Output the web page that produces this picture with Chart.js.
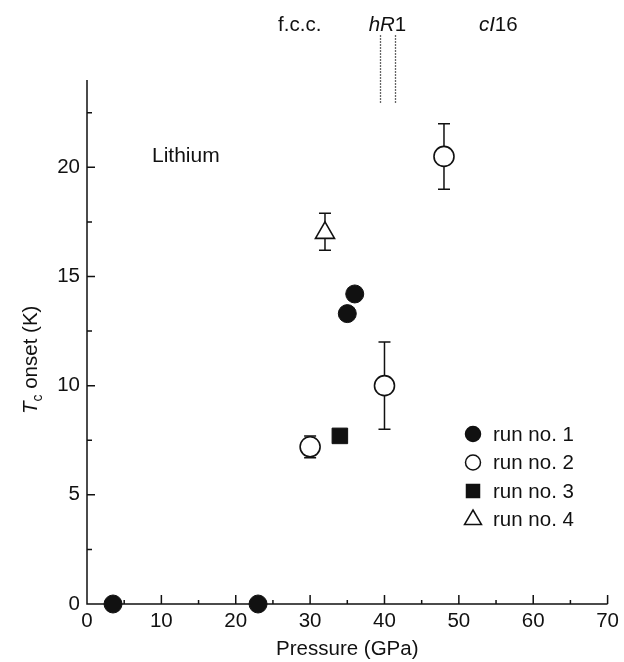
<!DOCTYPE html>
<html>
<head>
<meta charset="utf-8">
<script src="https://cdn.jsdelivr.net/npm/chart.js@4.4.0/dist/chart.umd.min.js"></script>
<style>
  html, body { margin: 0; padding: 0; background: #fff; }
</style>
</head>
<body>
<canvas id="myChart" width="624" height="662"></canvas>
<script>
// Tc onset vs pressure for lithium, four runs
const runLabels = ['run no. 1', 'run no. 2', 'run no. 3', 'run no. 4'];

const run1Pressure = [3.5, 23, 35, 36];
const run1Tc = [0, 0, 13.3, 14.2];

const run2Pressure = [30, 40, 48];
const run2Tc = [7.2, 10, 20.5];
const run2TcLow = [6.7, 8, 19];
const run2TcHigh = [7.7, 12, 22];

const run3Pressure = [34];
const run3Tc = [7.7];

const run4Pressure = [32];
const run4Tc = [17.0];
const run4TcLow = [16.2];
const run4TcHigh = [17.9];

// phase names along the top and the hR1 boundaries (GPa)
const phaseNames = ['f.c.c.', 'hR1', 'cI16'];
const phaseBounds = [39.4, 41.4];

const FONT = "'Liberation Sans', Arial, Helvetica, sans-serif";
const INK = '#111';
const TXT = 20.5;

function pts(xs, ys) {
  return xs.map((x, i) => ({ x: x, y: ys[i] }));
}

// error bars under the markers
const errorBars = {
  id: 'errorBars',
  beforeDatasetsDraw(chart) {
    const ctx = chart.ctx, xs = chart.scales.x, ys = chart.scales.y;
    ctx.save();
    ctx.strokeStyle = INK;
    ctx.lineWidth = 1.5;
    chart.data.datasets.forEach(ds => {
      if (!ds.errLow) return;
      ds.data.forEach((p, i) => {
        const px = xs.getPixelForValue(p.x);
        const lo = ys.getPixelForValue(ds.errLow[i]);
        const hi = ys.getPixelForValue(ds.errHigh[i]);
        ctx.beginPath();
        ctx.moveTo(px, lo); ctx.lineTo(px, hi);
        ctx.moveTo(px - 6, lo); ctx.lineTo(px + 6, lo);
        ctx.moveTo(px - 6, hi); ctx.lineTo(px + 6, hi);
        ctx.stroke();
      });
    });
    ctx.restore();
  }
};

// left/bottom axis lines with ticks pointing inward
const axes = {
  id: 'axes',
  beforeDatasetsDraw(chart) {
    const ctx = chart.ctx, a = chart.chartArea;
    const xs = chart.scales.x, ys = chart.scales.y;
    ctx.save();
    ctx.strokeStyle = INK;
    ctx.lineWidth = 1.5;
    ctx.beginPath();
    ctx.moveTo(a.left, a.top);
    ctx.lineTo(a.left, a.bottom);
    ctx.lineTo(a.right, a.bottom);
    for (let v = 0; v <= 70; v += 5) {
      const px = xs.getPixelForValue(v);
      ctx.moveTo(px, a.bottom);
      ctx.lineTo(px, a.bottom - (v % 10 === 0 ? 9 : 4));
    }
    for (let v = 2.5; v <= 22.5; v += 2.5) {
      const py = ys.getPixelForValue(v);
      ctx.moveTo(a.left, py);
      ctx.lineTo(a.left + (v % 5 === 0 ? 8 : 5), py);
    }
    ctx.stroke();
    ctx.restore();
  }
};

function drawRuns(ctx, parts, x, y) {
  // parts: [text, italic, size, dy]
  parts.forEach(p => {
    ctx.font = (p[1] ? 'italic ' : '') + p[2] + 'px ' + FONT;
    ctx.fillText(p[0], x, y + (p[3] || 0));
    x += ctx.measureText(p[0]).width;
  });
}

function runsWidth(ctx, parts) {
  let w = 0;
  parts.forEach(p => {
    ctx.font = (p[1] ? 'italic ' : '') + p[2] + 'px ' + FONT;
    w += ctx.measureText(p[0]).width;
  });
  return w;
}

const annotations = {
  id: 'annotations',
  afterDraw(chart) {
    const ctx = chart.ctx, xs = chart.scales.x, ys = chart.scales.y;
    ctx.save();
    ctx.fillStyle = INK;
    ctx.textBaseline = 'alphabetic';

    // y title: T_c onset (K)
    ctx.save();
    ctx.translate(37, 414);
    ctx.rotate(-Math.PI / 2);
    drawRuns(ctx, [['T', true, TXT], ['c', false, 14, 5], [' onset (K)', false, TXT]], 0, 0);
    ctx.restore();

    // element name
    ctx.font = '21px ' + FONT;
    ctx.textAlign = 'left';
    ctx.fillText('Lithium', 152, 162);

    // phase names above the plot
    const phaseParts = [
      [[phaseNames[0], false, TXT]],
      [['hR', true, TXT], ['1', false, TXT]],
      [['cI', true, TXT], ['16', false, TXT]]
    ];
    const phaseAt = [28.6, 40.4, 55.3];
    phaseParts.forEach((parts, i) => {
      const w = runsWidth(ctx, parts);
      drawRuns(ctx, parts, xs.getPixelForValue(phaseAt[i]) - w / 2, 31);
    });

    // dotted hR1 boundaries
    ctx.strokeStyle = '#333';
    ctx.lineWidth = 1.3;
    ctx.setLineDash([1.5, 1.5]);
    phaseBounds.forEach(p => {
      const px = Math.round(xs.getPixelForValue(p)) + 0.5;
      ctx.beginPath();
      ctx.moveTo(px, ys.getPixelForValue(26.05));
      ctx.lineTo(px, ys.getPixelForValue(22.95));
      ctx.stroke();
    });
    ctx.setLineDash([]);

    // legend
    const rows = [434, 462.5, 491, 519];
    chart.data.datasets.forEach((ds, i) => {
      const mx = 473, my = rows[i];
      ctx.strokeStyle = INK;
      ctx.lineWidth = 1.5;
      ctx.fillStyle = ds.backgroundColor;
      ctx.beginPath();
      if (ds.pointStyle === 'circle') {
        ctx.arc(mx, my, 7.5, 0, Math.PI * 2);
      } else if (ds.pointStyle === 'rect') {
        ctx.rect(mx - 6.5, my - 6.5, 13, 13);
      } else {
        ctx.moveTo(mx, my - 9);
        ctx.lineTo(mx + 8.5, my + 5.5);
        ctx.lineTo(mx - 8.5, my + 5.5);
        ctx.closePath();
      }
      ctx.fill();
      ctx.stroke();
      ctx.fillStyle = INK;
      ctx.font = TXT + 'px ' + FONT;
      ctx.textBaseline = 'middle';
      ctx.fillText(ds.label, 493, my + 1);
      ctx.textBaseline = 'alphabetic';
    });
    ctx.restore();
  }
};

Chart.defaults.font.family = FONT;
Chart.defaults.color = INK;

const myChart = new Chart(document.getElementById('myChart'), {
  type: 'scatter',
  data: {
    datasets: [
      {
        label: runLabels[0], data: pts(run1Pressure, run1Tc),
        pointStyle: 'circle', pointRadius: 9, backgroundColor: INK, borderColor: INK, borderWidth: 1, clip: false
      },
      {
        label: runLabels[1], data: pts(run2Pressure, run2Tc),
        errLow: run2TcLow, errHigh: run2TcHigh,
        pointStyle: 'circle', pointRadius: 10, backgroundColor: '#fff', borderColor: INK, borderWidth: 1.6, clip: false
      },
      {
        label: runLabels[2], data: pts(run3Pressure, run3Tc),
        pointStyle: 'rect', pointRadius: 11, backgroundColor: INK, borderColor: INK, borderWidth: 1, clip: false
      },
      {
        label: runLabels[3], data: pts(run4Pressure, run4Tc),
        errLow: run4TcLow, errHigh: run4TcHigh,
        pointStyle: 'triangle', pointRadius: 11, backgroundColor: '#fff', borderColor: INK, borderWidth: 1.6, clip: false
      }
    ]
  },
  options: {
    responsive: false,
    animation: false,
    events: [],
    layout: { padding: { top: 80, right: 15, left: 0, bottom: 0 } },
    plugins: { legend: { display: false }, tooltip: { enabled: false } },
    scales: {
      x: {
        type: 'linear', min: 0, max: 70,
        grid: { display: false, drawTicks: false },
        border: { display: false },
        ticks: { stepSize: 10, padding: 5, font: { size: TXT }, color: INK, maxRotation: 0, autoSkip: false },
        title: { display: true, text: 'Pressure (GPa)', font: { size: TXT }, color: INK, padding: { top: 0, bottom: 0 } },
        afterFit(s) { s.height = 58; }
      },
      y: {
        type: 'linear', min: 0, max: 24,
        grid: { display: false, drawTicks: false },
        border: { display: false },
        ticks: { stepSize: 5, includeBounds: false, padding: 7, font: { size: TXT }, color: INK },
        afterFit(s) { s.width = 87; }
      }
    }
  },
  plugins: [axes, errorBars, annotations]
});
</script>
</body>
</html>
